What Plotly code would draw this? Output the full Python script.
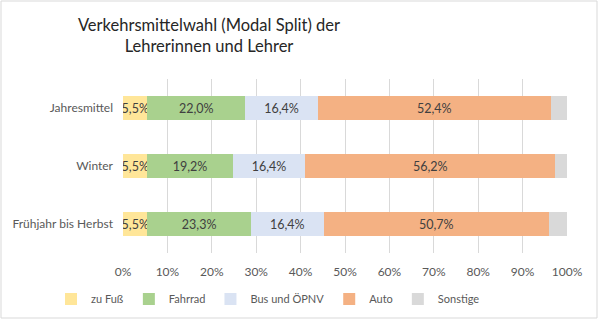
import plotly.graph_objects as go

# Modal split of teachers by season (percent of trips)
categories = ["Frühjahr bis Herbst", "Winter", "Jahresmittel"]
modes = ["zu Fuß", "Fahrrad", "Bus und ÖPNV", "Auto", "Sonstige"]
zu_fuss = [5.5, 5.5, 5.5]
fahrrad = [23.3, 19.2, 22.0]
bus_oepnv = [16.4, 16.4, 16.4]
auto = [50.7, 56.2, 52.4]
sonstige = [4.1, 2.7, 3.7]
x_ticks = [0, 10, 20, 30, 40, 50, 60, 70, 80, 90, 100]
x_tick_labels = [f"{v}%" for v in x_ticks]

series = [zu_fuss, fahrrad, bus_oepnv, auto, sonstige]
colors = ["#FFE699", "#A9D18E", "#DAE3F3", "#F4B183", "#D9D9D9"]
show_labels = [True, True, True, True, False]

FONT = "Lato, sans-serif"
TEXT_COLOR = "#404040"
AXIS_COLOR = "#595959"

fig = go.Figure()
for name, vals, col, lab in zip(modes, series, colors, show_labels):
    fig.add_trace(go.Bar(
        y=categories,
        x=vals,
        name=name,
        orientation="h",
        marker=dict(color=col, line=dict(width=0)),
        texttemplate="%{x:.1f}%" if lab else "",
        textposition="inside",
        insidetextanchor="middle",
        constraintext="none",
        textfont=dict(family=FONT, size=12.5, color=TEXT_COLOR),
        hoverinfo="skip",
    ))

fig.update_layout(
    width=600,
    height=322,
    barmode="stack",
    bargap=0.6,
    separators=",.",
    paper_bgcolor="white",
    plot_bgcolor="white",
    margin=dict(l=123, r=33, t=79, b=69),
    font=dict(family=FONT, size=12, color=AXIS_COLOR),
    title=dict(
        text="Verkehrsmittelwahl (Modal Split) der<br>Lehrerinnen und Lehrer",
        font=dict(family=FONT, size=16.5, color="#262626"),
        x=209 / 600,
        xanchor="center",
        y=0.905,
        yanchor="top",
    ),
    xaxis=dict(
        range=[0, 100],
        tickvals=x_ticks,
        ticktext=x_tick_labels,
        showgrid=True,
        gridcolor="#D9D9D9",
        gridwidth=1,
        zeroline=False,
        showline=False,
        ticks="",
        ticklabelstandoff=10,
        tickfont=dict(family=FONT, size=12, color=AXIS_COLOR),
        fixedrange=True,
        automargin=False,
    ),
    yaxis=dict(
        showgrid=False,
        showline=False,
        ticks="",
        ticklabelstandoff=9,
        tickfont=dict(family=FONT, size=12, color=AXIS_COLOR),
        fixedrange=True,
        automargin=False,
    ),
    legend=dict(
        orientation="h",
        xref="container",
        yref="container",
        x=268 / 600,
        xanchor="center",
        y=(322 - 299) / 322,
        yanchor="middle",
        font=dict(family=FONT, size=11, color=AXIS_COLOR),
        itemwidth=30,
        tracegroupgap=0,
        traceorder="normal",
    ),
    shapes=[
        dict(
            type="rect",
            xref="paper", yref="paper",
            x0=(1 - 123) / 444, x1=(597 - 123) / 444,
            y0=(253 - 318) / 174, y1=(253 - 1) / 174,
            line=dict(color="#D9D9D9", width=1),
            fillcolor="rgba(0,0,0,0)",
            layer="below",
        )
    ],
)

fig.write_html("out.html")
